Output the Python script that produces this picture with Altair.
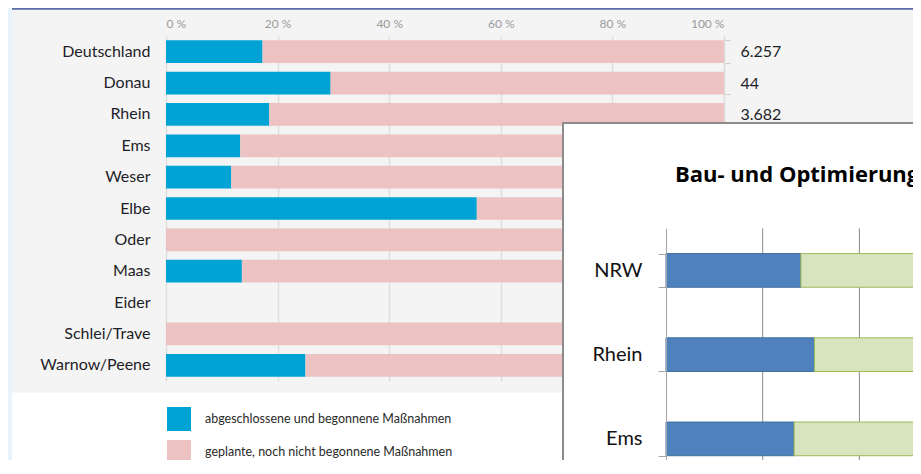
import altair as alt
import pandas as pd

# ---------------- data ----------------
regions = ["Deutschland", "Donau", "Rhein", "Ems", "Weser", "Elbe", "Oder",
           "Maas", "Eider", "Schlei/Trave", "Warnow/Peene"]
done_pct = [17.3, 29.5, 18.5, 13.3, 11.7, 55.7, 0.0, 13.6, 0.0, 0.0, 25.0]
planned_pct = [82.7, 70.5, 81.5, 86.7, 88.3, 44.3, 100.0, 86.4, 0.0, 100.0, 75.0]
totals = ["6.257", "44", "3.682", None, None, None, None, None, None, None, None]
series_names = ["abgeschlossene und begonnene Maßnahmen",
                "geplante, noch nicht begonnene Maßnahmen"]
series_colors = ["#00a3d3", "#ecc2c3"]
x_ticks = [0, 20, 40, 60, 80, 100]

inset_title = "Bau- und Optimierungsmaßnahmen"
inset_regions = ["NRW", "Rhein", "Ems"]
inset_done = [27.9, 30.7, 26.5]
inset_rest = [72.1, 69.3, 73.5]
inset_series = ["abgeschlossen", "geplant"]
inset_colors = ["#4f81bd", "#d7e4bd"]
inset_strokes = ["#41719c", "#9bbb59"]
inset_grid = [20, 40, 60, 80, 100]

FONT = "Lato"

# ---------------- main chart ----------------
rows = []
for r, d, p in zip(regions, done_pct, planned_pct):
    rows.append({"region": r, "series": series_names[0], "value": d, "ord": 0})
    rows.append({"region": r, "series": series_names[1], "value": p, "ord": 1})
main_df = pd.DataFrame(rows)

bars = alt.Chart(main_df).mark_bar().encode(
    x=alt.X("value:Q", stack="zero",
            scale=alt.Scale(domain=[0, 100], nice=False),
            axis=alt.Axis(orient="top", values=x_ticks, labelExpr="datum.value + ' %'",
                          title=None, tickSize=0, domain=False, grid=True,
                          gridColor="#dedede", gridWidth=1.5, labelColor="#9a9a9a",
                          labelFontSize=12, labelPadding=6, labelFont=FONT)),
    y=alt.Y("region:N", sort=regions,
            scale=alt.Scale(paddingInner=0.275, paddingOuter=0.1375),
            axis=alt.Axis(orient="left", title=None, ticks=False, domain=False,
                          labelFontSize=16, labelColor="#1e1e28", labelPadding=16,
                          labelFont=FONT)),
    color=alt.Color("series:N", scale=alt.Scale(domain=series_names, range=series_colors),
                    legend=alt.Legend(orient="none", legendX=1, legendY=371, title=None,
                                      symbolType="square", symbolSize=576,
                                      symbolStrokeWidth=0, labelFontSize=12.5,
                                      labelColor="#2a2a2a", labelOffset=14,
                                      labelLimit=0, rowPadding=9, labelFont=FONT,
                                      padding=0)),
    order=alt.Order("ord:Q"),
)

expr = "''"
for r, t in reversed(list(zip(regions, totals))):
    lab = t if t is not None else ""
    expr = f"datum.value == '{r}' ? '{lab}' : ({expr})"

tot_df = pd.DataFrame({"region": regions})
right_axis = alt.Chart(tot_df).mark_point(opacity=0).encode(
    y=alt.Y("region:N", sort=regions,
            axis=alt.Axis(orient="right", title=None, labelExpr=expr, tickBand="extent",
                          tickSize=6, tickColor="#cfcfcf", domain=True,
                          domainColor="#dedede", domainWidth=1.5, labelFontSize=16,
                          labelColor="#1e1e28", labelPadding=10, labelFont=FONT)),
)

main = alt.layer(bars, right_axis).resolve_axis(y="independent")

# ---------------- page decoration ----------------
one = pd.DataFrame({"k": [0]})
bg_white = alt.Chart(one).mark_rect(fill="#ffffff").encode(
    x=alt.value(-154), x2=alt.value(900), y=alt.value(356.7), y2=alt.value(700))
bg_strip = alt.Chart(one).mark_rect(fill="#e8f3fb").encode(
    x=alt.value(-160), x2=alt.value(-154), y=alt.value(-40), y2=alt.value(700))
bg_line = alt.Chart(one).mark_rect(fill="#5a6da6").encode(
    x=alt.value(-154), x2=alt.value(900), y=alt.value(-28), y2=alt.value(-26.3))

# ---------------- inset chart ----------------
irows = []
for r, d, p in zip(inset_regions, inset_done, inset_rest):
    irows.append({"region": r, "series": inset_series[0], "value": d, "ord": 0})
    irows.append({"region": r, "series": inset_series[1], "value": p, "ord": 1})
inset_df = pd.DataFrame(irows)

inset_x = alt.Scale(domain=[0, 100], range=[500, 983.5], nice=False)

box = alt.Chart(one).mark_rect(fill="#ffffff", stroke="#8c8c8c", strokeWidth=2).encode(
    x=alt.value(397), x2=alt.value(900), y=alt.value(87), y2=alt.value(700))

ititle = alt.Chart(pd.DataFrame({"t": [inset_title]})).mark_text(
    align="left", baseline="alphabetic", fontSize=22, fontWeight="bold",
    font="Open Sans", color="#000000").encode(text="t:N", x=alt.value(509), y=alt.value(145.7))

igrid = alt.Chart(pd.DataFrame({"g": inset_grid})).mark_rule(
    color="#8a8a8a", strokeWidth=1).encode(
    x=alt.X("g:Q", scale=inset_x, axis=None), y=alt.value(192.3), y2=alt.value(700))

ibars = alt.Chart(inset_df).mark_bar(strokeWidth=1).encode(
    x=alt.X("value:Q", stack="zero", scale=inset_x, axis=None),
    y=alt.Y("region:N", sort=inset_regions,
            scale=alt.Scale(range=[192.3, 445], paddingInner=0.6, paddingOuter=0.3),
            axis=alt.Axis(orient="left", offset=-500, zindex=1, title=None,
                          tickBand="extent", tickSize=8, tickColor="#a6a6a6",
                          domainColor="#a6a6a6", labelFontSize=20, labelColor="#111111",
                          labelPadding=16, labelFont=FONT)),
    color=alt.Color("series:N", scale=alt.Scale(domain=inset_series, range=inset_colors),
                    legend=None),
    stroke=alt.Stroke("series:N", scale=alt.Scale(domain=inset_series, range=inset_strokes),
                      legend=None),
    order=alt.Order("ord:Q"),
)

inset = alt.layer(box, ititle, igrid, ibars)

chart = alt.layer(bg_white, bg_strip, bg_line, main, inset).resolve_scale(
    x="independent", y="independent", color="independent", stroke="independent"
).properties(
    width=558, height=345,
    padding={"left": 158, "top": 28, "right": 189, "bottom": 79},
    autosize=alt.AutoSizeParams(type="none"),
    background="#f4f4f4",
).configure_view(stroke=None)

chart.save("out.html", embed_options={"renderer": "svg", "actions": False})
